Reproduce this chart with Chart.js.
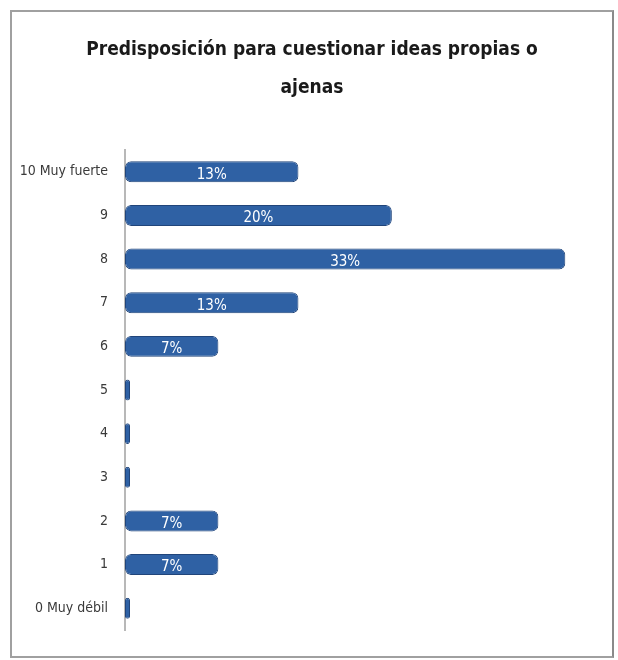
<!DOCTYPE html>
<html>
<head>
<meta charset="utf-8">
<script src="https://cdn.jsdelivr.net/npm/chart.js@4.4.1/dist/chart.umd.min.js"></script>
<style>
    body { margin: 0; background: #fff; }
    #wrap { position: absolute; left: 10px; top: 10px; width: 600px; height: 644px; border: 2px solid #a0a0a0; border-right-color: #8a8a8a; background: #fff; }
</style>
</head>
<body>
<div id="wrap"><canvas id="myChart" width="600" height="644"></canvas></div>
<script>
var categories = ['10 Muy fuerte', '9', '8', '7', '6', '5', '4', '3', '2', '1', '0 Muy débil'];
var values = [13, 20, 33, 13, 7, 0, 0, 0, 7, 7, 0];
var titleLines = ['Predisposición para cuestionar ideas propias o', 'ajenas'];

var narrow = "'Liberation Sans Narrow', 'DejaVu Sans Condensed', sans-serif";

// white % labels inside the bars
var barLabels = {
    id: 'barLabels',
    afterDatasetsDraw: function (chart) {
        var ctx = chart.ctx;
        var meta = chart.getDatasetMeta(0);
        ctx.save();
        ctx.fillStyle = '#ffffff';
        ctx.font = '15px ' + narrow;
        ctx.textAlign = 'center';
        ctx.textBaseline = 'middle';
        meta.data.forEach(function (bar, i) {
            if (!values[i]) return;
            ctx.fillText(values[i] + '%', (bar.x + bar.base) / 2, bar.y + 3);
        });
        ctx.restore();
    }
};

var myChartElem = document.getElementById('myChart').getContext('2d');

var myChart = new Chart(myChartElem, {
    type: 'bar',
    data: {
        labels: categories,
        datasets: [{
            label: 'Predisposición',
            data: values,
            backgroundColor: '#2f61a4',
            borderColor: '#21457a',
            borderWidth: 1,
            borderSkipped: false,
            borderRadius: 6,
            minBarLength: 5,
            barPercentage: 0.48,
            categoryPercentage: 1
        }]
    },
    options: {
        indexAxis: 'y',
        responsive: false,
        animation: false,
        layout: {
            padding: { left: 0, right: 0, top: 0, bottom: 26 }
        },
        plugins: {
            legend: { display: false },
            tooltip: { enabled: false },
            title: {
                display: true,
                text: titleLines,
                color: '#1a1a1a',
                font: { family: narrow, size: 19, weight: 'bold', lineHeight: 2 },
                padding: { top: 19, bottom: 43 }
            }
        },
        scales: {
            x: {
                display: false,
                min: 0,
                max: 36.5
            },
            y: {
                afterFit: function (scale) { scale.width = 113; },
                grid: { display: false, drawTicks: false },
                border: { display: true, color: '#b8b8b8', width: 2 },
                ticks: {
                    color: '#3a3a3a',
                    padding: 17,
                    font: { family: narrow, size: 14 }
                }
            }
        }
    },
    plugins: [barLabels]
});
</script>
</body>
</html>
